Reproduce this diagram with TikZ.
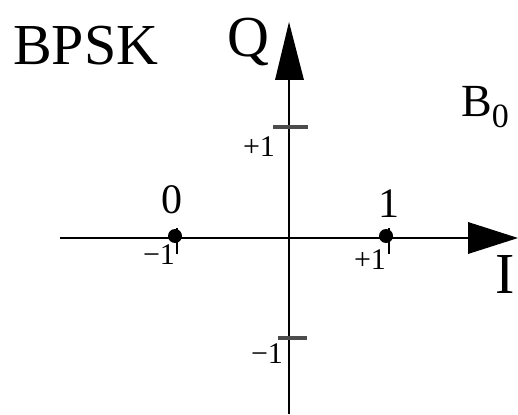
\documentclass[tikz,border=0pt]{standalone}
\usepackage{fontspec}
\setmainfont{Liberation Serif}
\begin{document}
\begin{tikzpicture}[x=1pt,y=-1pt,
  axis/.style={line width=1.3pt,black},
  tip/.style={fill=black},
  tickmark/.style={line width=3.5pt,draw=black!70},
  dotmark/.style={fill=black},
  big/.style={inner sep=0,font=\fontsize{58}{62}\selectfont},
  mid/.style={inner sep=0,font=\fontsize{42}{46}\selectfont},
  small/.style={inner sep=0,font=\fontsize{30}{32}\selectfont}]
\useasboundingbox (0,0) rectangle (518,414);
% coordinates
\coordinate (xl) at (60,238);
\coordinate (xr) at (470,238);
\coordinate (yt) at (289,78);
\coordinate (yb) at (289,414);
% axes
\draw[axis] (xl) -- (xr);
\draw[axis] (yb) -- (yt);
% arrowheads
\fill[tip] (518,238) -- (468,222) -- (468,254) -- cycle;
\fill[tip] (289,22) -- (275,80) -- (304,80) -- cycle;
% ticks on Q
\draw[tickmark] (273,127) -- (308,127);
\draw[tickmark] (278,338) -- (307,338);
% constellation points
\fill[dotmark] (175,236) circle (7);
\draw[line width=2.5pt] (177,228) -- (177,254);
\fill[dotmark] (386,236) circle (7);
\draw[line width=2.5pt] (389,228) -- (389,254);
% labels
\node[big,anchor=base west] (bpsk) at (13,65) {BPSK};
\node[big,anchor=base west] (q) at (227,57) {Q};
\node[big,anchor=base west] (i) at (495,293) {I};
\node[inner sep=0,font=\fontsize{46}{50}\selectfont,anchor=base west] (b0) at (461,117) {B\raisebox{-11pt}{\fontsize{34}{36}\selectfont 0}};
\node[mid,anchor=base] (l0) at (172,213) {0};
\node[mid,anchor=base] (l1) at (389,217) {1};
\node[small,anchor=base] (m1a) at (159,264) {−1};
\node[small,anchor=base] (p1a) at (370,269) {+1};
\node[small,anchor=base] (p1q) at (259,156) {+1};
\node[small,anchor=base] (m1q) at (267,363) {−1};
\end{tikzpicture}
\end{document}
